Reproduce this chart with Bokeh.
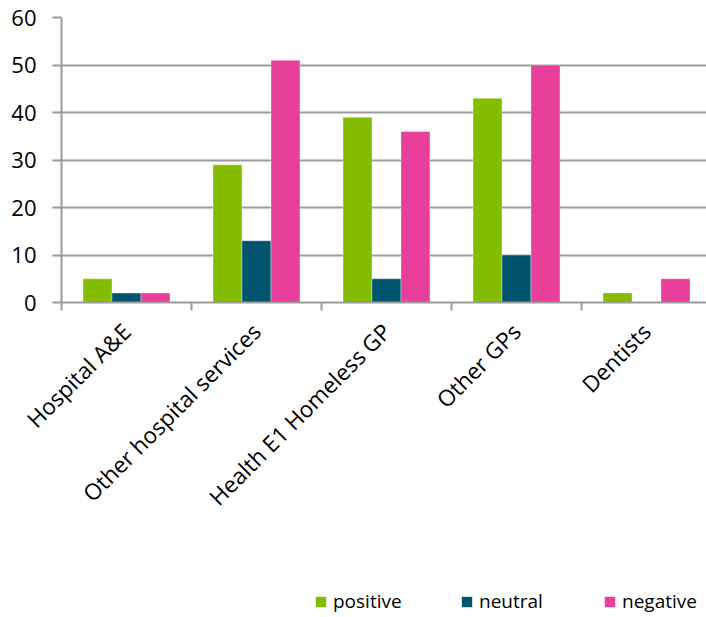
import math

from bokeh.embed import file_html
from bokeh.layouts import column
from bokeh.models import (ColumnDataSource, FixedTicker, Grid, Legend,
                          LegendItem, LinearAxis, Range1d)
from bokeh.plotting import figure
from bokeh.resources import INLINE

# Feedback counts per service
categories = ["Hospital A&E", "Other hospital services", "Health E1 Homeless GP",
              "Other GPs", "Dentists"]
positive = [5, 29, 39, 43, 2]
neutral = [2, 13, 5, 10, 0]
negative = [2, 51, 36, 50, 5]
series = ["positive", "neutral", "negative"]
colors = ["#84BD00", "#00546E", "#E8409A"]
y_ticks = [0, 10, 20, 30, 40, 50, 60]

FONT = "Open Sans"
GRID = "#9A9A9A"
BAR_W = 0.223

p = figure(width=706, height=580, output_backend="svg", toolbar_location=None,
           x_range=Range1d(0, 645 / 130), y_range=Range1d(0, 60),
           x_axis_location=None, y_axis_location=None,
           min_border_left=61, min_border_right=0, min_border_top=17,
           min_border_bottom=278)
p.outline_line_color = None
p.grid.visible = False
p.background_fill_color = "white"
p.border_fill_color = "white"

# y axis and horizontal gridlines
yaxis = LinearAxis(ticker=FixedTicker(ticks=y_ticks))
yaxis.axis_line_color = GRID
yaxis.axis_line_width = 2
yaxis.major_tick_line_color = GRID
yaxis.major_tick_line_width = 2
yaxis.major_tick_out = 9
yaxis.major_tick_in = 0
yaxis.minor_tick_line_color = None
yaxis.major_label_standoff = 16
yaxis.major_label_text_font = FONT
yaxis.major_label_text_font_size = "22px"
yaxis.major_label_text_color = "black"
p.add_layout(yaxis, "left")
p.add_layout(Grid(dimension=1, ticker=yaxis.ticker, grid_line_color=GRID,
                  grid_line_width=2))

# x axis: boundary ticks between categories
xaxis = LinearAxis(ticker=FixedTicker(ticks=list(range(len(categories)))))
xaxis.axis_line_color = GRID
xaxis.axis_line_width = 2
xaxis.major_tick_line_color = GRID
xaxis.major_tick_line_width = 2
xaxis.major_tick_out = 8
xaxis.major_tick_in = 0
xaxis.minor_tick_line_color = None
xaxis.major_label_text_font_size = "0px"
xaxis.major_label_standoff = 0
xaxis.major_label_overrides = {i: "" for i in range(len(categories))}
p.add_layout(xaxis, "below")

# x axis: rotated category names at category centres
centres = [i + 0.5 for i in range(len(categories))]
laxis = LinearAxis(ticker=FixedTicker(ticks=centres))
laxis.axis_line_color = None
laxis.major_tick_line_color = None
laxis.minor_tick_line_color = None
laxis.major_label_overrides = {c: name for c, name in zip(centres, categories)}
laxis.major_label_orientation = math.pi / 4
laxis.major_label_standoff = 11
laxis.major_label_text_font = FONT
laxis.major_label_text_font_size = "22.5px"
laxis.major_label_text_color = "black"
p.add_layout(laxis, "below")

# grouped bars
values = [positive, neutral, negative]
for k, (vals, col) in enumerate(zip(values, colors)):
    src = ColumnDataSource(dict(x=[c + (k - 1) * BAR_W for c in centres], top=vals))
    p.vbar(x="x", top="top", width=BAR_W, bottom=0, source=src,
           fill_color=col, line_color="white", line_alpha=0.35, line_width=1)

# legend strip underneath the chart (its frame shares the chart's left edge)
leg = figure(width=706, height=37, output_backend="svg", toolbar_location=None,
             x_range=Range1d(0, 1), y_range=Range1d(0, 1),
             x_axis_location=None, y_axis_location=None,
             min_border=0, min_border_left=0, min_border_right=0,
             min_border_top=0, min_border_bottom=0)
leg.outline_line_color = None
leg.grid.visible = False
leg.border_fill_color = "white"

legend_x = [253, 399, 542]
for name, col, lx in zip(series, colors, legend_x):
    swatch = leg.vbar(x=[-5], top=[-5], bottom=[-6], width=0.5,
                      fill_color=col, line_color=None)
    lg = Legend(items=[LegendItem(label=name, renderers=[swatch])],
                location=(lx, 3), orientation="horizontal",
                glyph_width=13, glyph_height=13, label_standoff=6,
                label_text_font=FONT, label_text_font_size="19px",
                label_text_color="black", label_height=20,
                padding=0, margin=0, border_line_color=None,
                background_fill_alpha=0)
    leg.add_layout(lg, "center")

open("out.html", "w").write(file_html(column(p, leg, spacing=0), INLINE))
